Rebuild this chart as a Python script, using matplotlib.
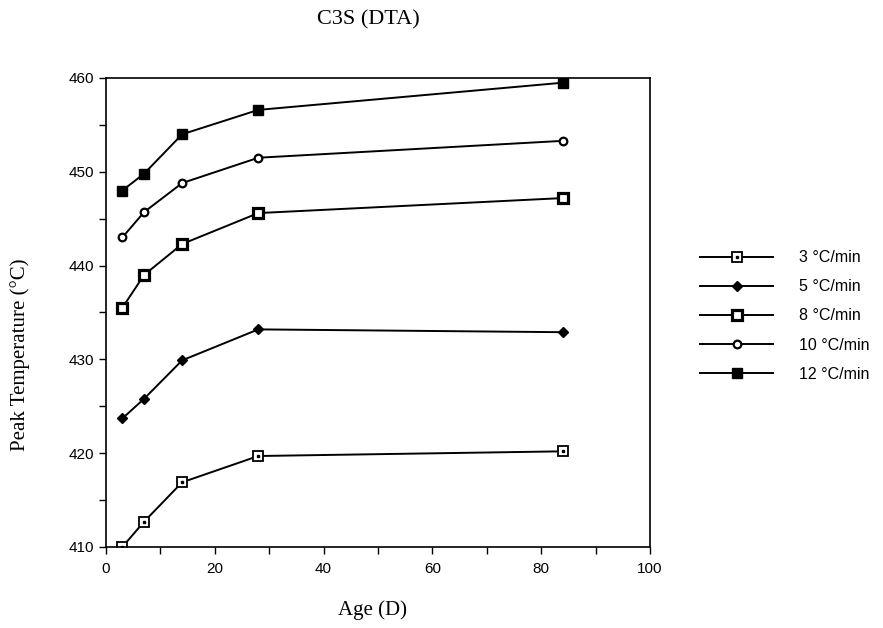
import matplotlib
matplotlib.use('Agg')
import matplotlib.pyplot as plt
from matplotlib.legend_handler import HandlerTuple

# Age of sample (days)
age = [3, 7, 14, 28, 84]

# Peak temperature (deg C) at each heating rate
t3 = [410.0, 412.7, 416.9, 419.7, 420.2]
t5 = [423.7, 425.8, 429.9, 433.2, 432.9]
t8 = [435.5, 439.0, 442.3, 445.6, 447.2]
t10 = [443.0, 445.7, 448.8, 451.5, 453.3]
t12 = [448.0, 449.8, 454.0, 456.6, 459.5]

rate_labels = ['3 °C/min', '5 °C/min', '8 °C/min', '10 °C/min', '12 °C/min']

serif = 'Liberation Serif'
sans = 'Liberation Sans'

fig = plt.figure(figsize=(8.83, 6.28), dpi=100)
ax = fig.add_axes([106 / 883, 1 - 547 / 628, 544 / 883, 469 / 628])

lw = 1.4
h3 = ax.plot(age, t3, color='black', lw=lw, marker='s', ms=6.5, mfc='white',
             mec='black', mew=1.3)[0]
h3dot = ax.plot(age, t3, ls='none', marker='s', ms=1.8, color='black')[0]
h5 = ax.plot(age, t5, color='black', lw=lw, marker='D', ms=5, mfc='black',
             mec='black')[0]
h8 = ax.plot(age, t8, color='black', lw=lw, marker='s', ms=7, mfc='white',
             mec='black', mew=2.3)[0]
h10 = ax.plot(age, t10, color='black', lw=lw, marker='o', ms=5.5, mfc='white',
              mec='black', mew=1.6)[0]
h12 = ax.plot(age, t12, color='black', lw=lw, marker='s', ms=7, mfc='black',
              mec='black')[0]

ax.set_xlim(0, 100)
ax.set_ylim(410, 460)
ax.set_xticks(range(0, 101, 20))
ax.set_xticks(range(0, 101, 10), minor=True)
ax.set_yticks(range(410, 461, 10))
ax.set_yticks(range(410, 461, 5), minor=True)
ax.tick_params(which='both', direction='out', length=5, width=1)
ax.tick_params(axis='x', pad=6)
for lab in ax.get_xticklabels() + ax.get_yticklabels():
    lab.set_fontfamily(sans)
    lab.set_fontsize(11)
for sp in ax.spines.values():
    sp.set_linewidth(1.2)

fig.text(368 / 883, 1 - 20 / 628, 'C3S (DTA)', family=serif, fontsize=16,
         ha='center', va='center')
fig.text(20 / 883, 1 - 355 / 628, 'Peak Temperature (°C)', family=serif,
         fontsize=15, rotation=90, ha='center', va='center')
fig.text(373 / 883, 1 - 610 / 628, 'Age (D)', family=serif, fontsize=15,
         ha='center', va='center')

handles = [(h3, h3dot), h5, h8, h10, h12]
fig.legend(handles, rate_labels, loc='center left',
           bbox_to_anchor=(700 / 883, 1 - 316 / 628), frameon=False,
           borderpad=0, borderaxespad=0, handlelength=4.6, handletextpad=1.6,
           labelspacing=0.88, numpoints=1,
           prop={'family': sans, 'size': 11.5},
           handler_map={tuple: HandlerTuple(ndivide=1, pad=0)})

fig.savefig('out.png', dpi=100)
